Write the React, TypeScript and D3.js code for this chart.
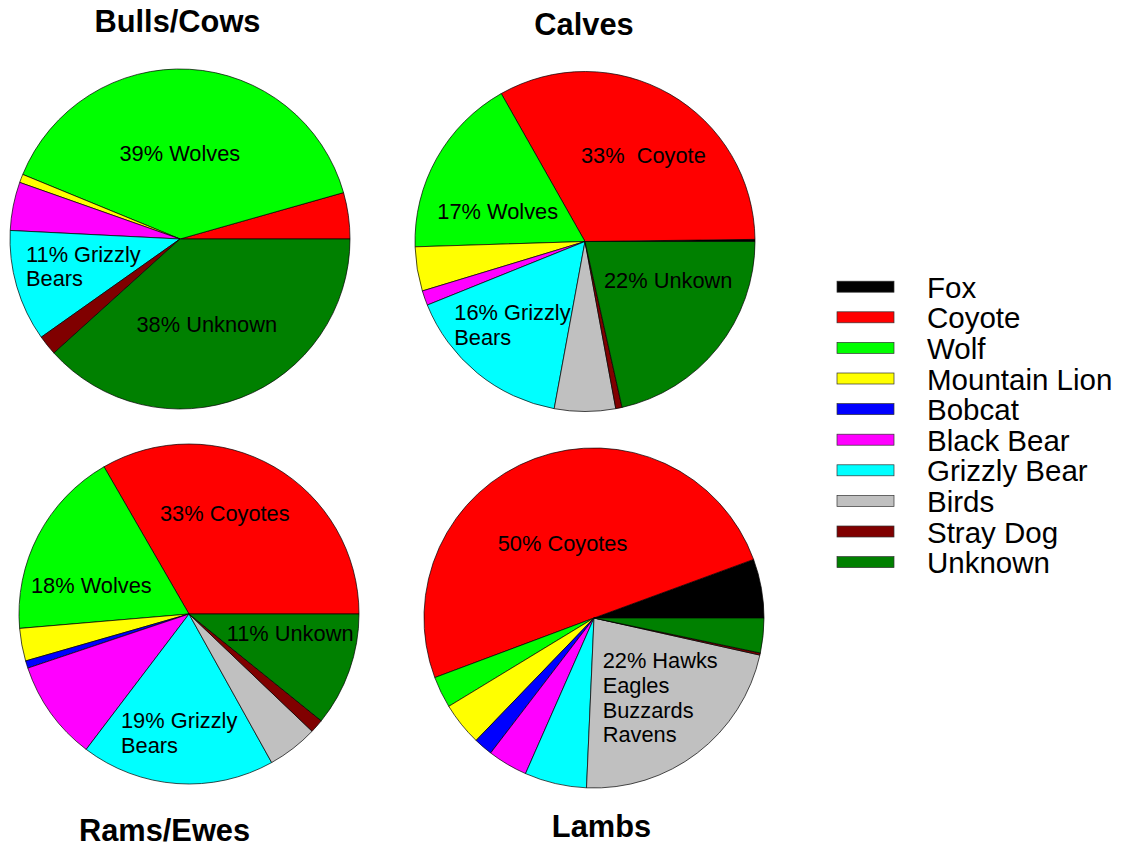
import React, { useEffect, useRef } from 'react';
import * as d3 from 'd3';

// species in legend / slice order
const species = [
  'Fox',
  'Coyote',
  'Wolf',
  'Mountain Lion',
  'Bobcat',
  'Black Bear',
  'Grizzly Bear',
  'Birds',
  'Stray Dog',
  'Unknown',
];

// percent of losses per species
const bullsCows = [0, 4.4, 39.4, 0.8, 0, 4.6, 10.6, 0, 1.9, 38.3];
const calves = [0.2, 33.0, 17.3, 4.2, 0, 1.4, 16.0, 5.8, 0.6, 21.5];
const ramsEwes = [0, 33.3, 18.0, 3.1, 0.7, 9.5, 18.4, 4.8, 1.3, 10.8];
const lambs = [5.6, 50.1, 3.0, 4.1, 1.8, 3.8, 5.9, 22.2, 0.2, 3.3];

const titles = ['Bulls/Cows', 'Calves', 'Rams/Ewes', 'Lambs'];

const bullsCowsLabels = ['39% Wolves', '11% Grizzly\nBears', '38% Unknown'];
const calvesLabels = ['33%  Coyote', '17% Wolves', '22% Unkown', '16% Grizzly\nBears'];
const ramsEwesLabels = ['33% Coyotes', '18% Wolves', '11% Unkown', '19% Grizzly\nBears'];
const lambsLabels = ['50% Coyotes', '22% Hawks\nEagles\nBuzzards\nRavens'];

const colors = [
  '#000000',
  '#FF0000',
  '#00FF00',
  '#FFFF00',
  '#0000FF',
  '#FF00FF',
  '#00FFFF',
  '#C0C0C0',
  '#800000',
  '#008000',
];

const panels = [
  {
    values: bullsCows,
    labels: bullsCowsLabels,
    cx: 180,
    cy: 239,
    title: { x: 177.5, y: 32 },
    labelPos: [
      [-60.5, -78],
      [-154, 22.7],
      [-43.5, 92.7],
    ],
  },
  {
    values: calves,
    labels: calvesLabels,
    cx: 585,
    cy: 241.5,
    title: { x: 584, y: 35 },
    labelPos: [
      [-4, -78.8],
      [-147.7, -22.2],
      [19, 46.8],
      [-130.7, 78.5],
    ],
  },
  {
    values: ramsEwes,
    labels: ramsEwesLabels,
    cx: 189,
    cy: 614,
    title: { x: 164.5, y: 841 },
    labelPos: [
      [-29, -93],
      [-158, -21],
      [37.7, 27],
      [-68, 114.3],
    ],
  },
  {
    values: lambs,
    labels: lambsLabels,
    cx: 594,
    cy: 618,
    title: { x: 601.5, y: 837 },
    labelPos: [
      [-96.3, -67.3],
      [8.7, 50.3],
    ],
  },
];

export default function App() {
  const ref = useRef<SVGSVGElement>(null);

  useEffect(() => {
    document.body.style.margin = '0';
    const svg = d3.select(ref.current);
    svg.selectAll('*').remove();

    const radius = 170;
    const font = 'Arial, "Liberation Sans", sans-serif';

    // slices start at 3 o'clock and run counterclockwise
    const pie = d3
      .pie<number>()
      .sort(null)
      .value((d) => d)
      .startAngle(Math.PI / 2)
      .endAngle(Math.PI / 2 - 2 * Math.PI);

    const arc = d3.arc<d3.PieArcDatum<number>>().innerRadius(0).outerRadius(radius);

    panels.forEach((p, pi) => {
      const g = svg.append('g').attr('transform', `translate(${p.cx},${p.cy})`);

      g.selectAll('path')
        .data(pie(p.values).filter((d) => d.data > 0))
        .join('path')
        .attr('d', arc)
        .attr('fill', (d) => colors[d.index])
        .attr('stroke', '#000')
        .attr('stroke-width', 0.7);

      p.labels.forEach((lab, li) => {
        const [dx, dy] = p.labelPos[li];
        const t = g
          .append('text')
          .attr('x', dx)
          .attr('y', dy)
          .attr('font-family', font)
          .attr('font-size', 21.8)
          .attr('fill', '#000')
          .style('white-space', 'pre');
        lab.split('\n').forEach((line, k) => {
          t.append('tspan')
            .attr('x', dx)
            .attr('dy', k === 0 ? 0 : 24.6)
            .text(line);
        });
      });

      svg
        .append('text')
        .attr('x', p.title.x)
        .attr('y', p.title.y)
        .attr('text-anchor', 'middle')
        .attr('font-family', font)
        .attr('font-weight', 'bold')
        .attr('font-size', 30.8)
        .text(titles[pi]);
    });

    // Legend
    const legend = svg.append('g');
    const rowY = d3
      .scalePoint<string>()
      .domain(species)
      .range([286.7, 286.7 + 30.6 * (species.length - 1)]);

    species.forEach((s, i) => {
      legend
        .append('rect')
        .attr('x', 837)
        .attr('y', rowY(s)! - 5.5)
        .attr('width', 57)
        .attr('height', 11)
        .attr('fill', colors[i])
        .attr('stroke', '#333')
        .attr('stroke-width', 0.7);
      legend
        .append('text')
        .attr('x', 927)
        .attr('y', rowY(s)! + 11)
        .attr('font-family', font)
        .attr('font-size', 29.5)
        .text(s);
    });
  }, []);

  return (
    <svg
      ref={ref}
      width={1133}
      height={848}
      style={{ display: 'block', background: '#fff' }}
    />
  );
}
